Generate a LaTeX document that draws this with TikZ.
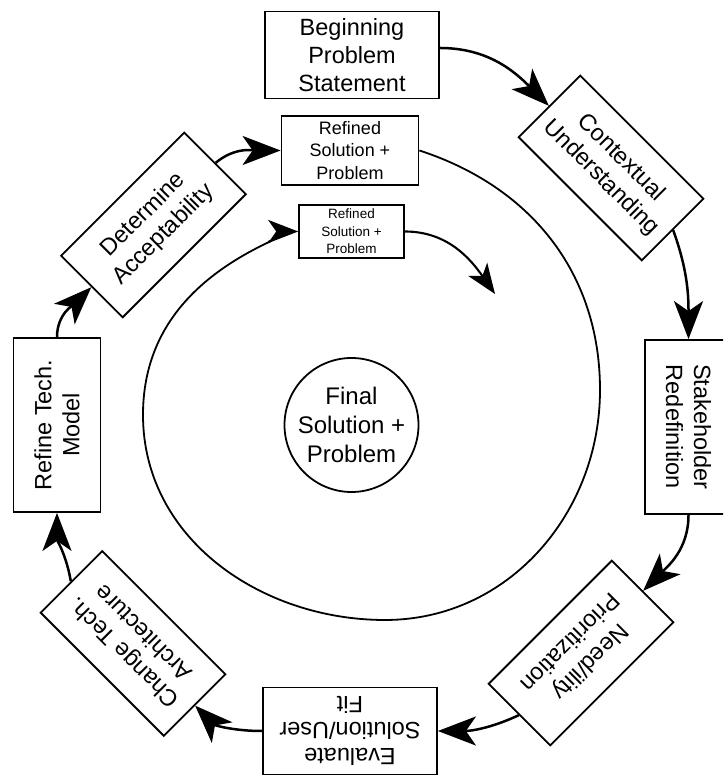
\documentclass[tikz,border=0pt]{standalone}
\usepackage{fontspec}
\setmainfont{Liberation Sans}
\usetikzlibrary{arrows.meta}
\begin{document}
\begin{tikzpicture}[x=1pt,y=1pt,
  box/.style={draw, line width=1.8pt, minimum width=174pt, minimum height=87pt,
    inner sep=0pt, align=center, font=\fontsize{23.5}{28}\selectfont},
  conn/.style={line width=2.5pt, -{Stealth[length=38pt,width=29pt,inset=10pt]}},
  smallconn/.style={line width=2.1pt, -{Stealth[length=30pt,width=23pt,inset=8pt]}},
  spiral/.style={line width=1.8pt}]
\useasboundingbox (0,0) rectangle (723,775);
\clip (0,0) rectangle (723,775);
% cycle boxes
\node[box] (beg) at (352,720) {Beginning\\Problem\\Statement};
\node[box, rotate=-45] (ctx) at (611,607) {Contextual\\Understanding};
\node[box, rotate=-90] (stk) at (688.5,348) {Stakeholder\\Redefinition};
\node[box, rotate=-135] (need) at (581,122) {Need/ility\\Prioritization};
\node[box, rotate=180, font=\fontsize{23.5}{26}\selectfont] (eval) at (350,44) {Evaluate\\Solution/User\\Fit};
\node[box, rotate=135] (chg) at (133,131.5) {Change Tech.\\Architecture};
\node[box, rotate=90] (ref) at (57,350) {Refine Tech.\\Model};
\node[box, rotate=45] (det) at (153.5,550) {Determine\\Acceptability};
% refined boxes
\node[draw, line width=1.8pt, minimum width=137pt, minimum height=69pt, inner sep=0pt,
  align=center, font=\fontsize{18}{22.5}\selectfont] (r1) at (350,624.5) {Refined\\Solution +\\Problem};
\node[draw, line width=1.6pt, minimum width=105pt, minimum height=53pt, inner sep=0pt,
  align=center, font=\fontsize{13.5}{17.5}\selectfont] (r2) at (351.5,543.5) {Refined\\Solution +\\Problem};
% final
\node[draw, circle, line width=1.8pt, minimum size=134pt, inner sep=0pt, align=center,
  font=\fontsize{24}{29}\selectfont] (fin) at (351.5,350) {Final\\Solution +\\Problem};
\coordinate (tipA) at (495,481);
% connectors
\draw[conn] ([yshift=7pt]beg.east) to[out=0,in=135] (ctx.west);
\draw[conn] (ctx.east) to[out=-70,in=90] (stk.west);
\draw[conn] (stk.east) to[out=-90,in=45] (need.west);
\draw[conn] (need.east) to[out=-155,in=0] (eval.west);
\draw[conn] (eval.east) to[out=180,in=-45] (chg.west);
\draw[conn] (chg.east) to[out=100,in=-90] (ref.west);
\draw[conn] (ref.east) to[out=90,in=-135] (det.west);
\draw[conn] (det.east) to[out=40,in=180] (r1.west);
\draw[spiral] (r1.east) to[out=-18,in=90] (600,385) to[out=-90,in=0] (385,155)
  to[out=180,in=-90] (143,360) to[out=90,in=205] ([xshift=-28pt,yshift=-10pt]r2.west);
\draw[smallconn] ([xshift=-30pt,yshift=-10.5pt]r2.west) to[out=22,in=180] (r2.west);
\draw[smallconn] (r2.east) to[out=0,in=125] (tipA);
\end{tikzpicture}
\end{document}
